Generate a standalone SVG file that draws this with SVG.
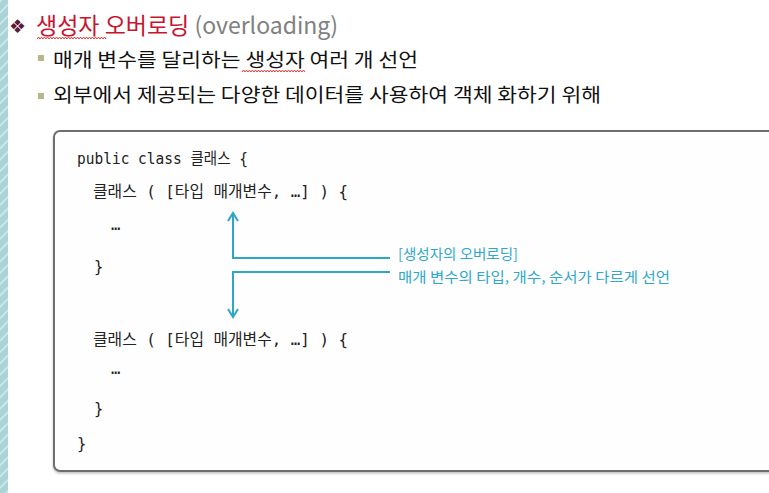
<svg xmlns="http://www.w3.org/2000/svg" width="769" height="493" viewBox="0 0 769 493">
<defs>
<pattern id="stripes" width="8" height="8" patternUnits="userSpaceOnUse" patternTransform="rotate(45)">
<rect width="8" height="8" fill="#a9d3d6"/>
<rect width="2" height="8" fill="#c9e6e8"/>
</pattern>
<marker id="ah" viewBox="0 0 12 12" refX="10" refY="6" markerWidth="12" markerHeight="12" markerUnits="userSpaceOnUse" orient="auto">
<path d="M2 1 L10 6 L2 11" fill="none" stroke="#2ea6c4" stroke-width="2"/>
</marker>
<filter id="sh" x="-5%" y="-5%" width="110%" height="110%">
<feDropShadow dx="0" dy="1.5" stdDeviation="1" flood-color="#000" flood-opacity="0.25"/>
</filter>
</defs>
<style>
.kr{font-family:"Noto Sans CJK KR","Noto Sans",sans-serif;}
.code{font-family:"DejaVu Sans Mono","Noto Sans CJK KR",monospace;font-size:15.5px;fill:#222;}
.note{font-family:"Noto Sans CJK KR",sans-serif;font-size:14px;fill:#2fa8cb;}
.conn{fill:none;stroke:#2ea6c4;stroke-width:2;}
.sq{fill:#b9b58c;}
.wave{fill:none;stroke:#e02828;stroke-width:0.9;}
</style>
<rect width="769" height="493" fill="#ffffff"/>
<rect x="0" y="0" width="8" height="493" fill="url(#stripes)"/>

<g id="title">
<text x="9" y="33" font-family="DejaVu Sans,sans-serif" font-size="19" fill="#5c1a3c">❖</text>
<text class="kr" x="36" y="34" font-size="23" fill="#c8142e">생성자 오버로딩 <tspan fill="#808080">(overloading)</tspan></text>
<path class="wave" d="M37 39 l1.5 -2 l1.5 2 l1.5 -2 l1.5 2 l1.5 -2 l1.5 2 l1.5 -2 l1.5 2 l1.5 -2 l1.5 2 l1.5 -2 l1.5 2 l1.5 -2 l1.5 2 l1.5 -2 l1.5 2 l1.5 -2 l1.5 2 l1.5 -2 l1.5 2 l1.5 -2 l1.5 2 l1.5 -2 l1.5 2 l1.5 -2 l1.5 2 l1.5 -2 l1.5 2 l1.5 -2 l1.5 2 l1.5 -2 l1.5 2 l1.5 -2 l1.5 2 l1.5 -2 l1.5 2 l1.5 -2 l1.5 2 l1.5 -2 l1.5 2 l1.5 -2 l1.5 2 l1.5 -2 l1.5 2 l1.5 -2 l1.5 2"/>
</g>

<g id="bullets">
<rect class="sq" x="38" y="55" width="6" height="6"/>
<text class="kr" x="53" y="67" font-size="19" fill="#111" textLength="365" lengthAdjust="spacingAndGlyphs">매개 변수를 달리하는 생성자 여러 개 선언</text>
<path class="wave" d="M242 72 l1.5 -2 l1.5 2 l1.5 -2 l1.5 2 l1.5 -2 l1.5 2 l1.5 -2 l1.5 2 l1.5 -2 l1.5 2 l1.5 -2 l1.5 2 l1.5 -2 l1.5 2 l1.5 -2 l1.5 2 l1.5 -2 l1.5 2 l1.5 -2 l1.5 2 l1.5 -2 l1.5 2 l1.5 -2 l1.5 2 l1.5 -2 l1.5 2 l1.5 -2 l1.5 2 l1.5 -2 l1.5 2 l1.5 -2 l1.5 2 l1.5 -2 l1.5 2 l1.5 -2 l1.5 2 l1.5 -2 l1.5 2 l1.5 -2 l1.5 2 l1.5 -2 l1.5 2"/>
<rect class="sq" x="38" y="93" width="6" height="6"/>
<text class="kr" x="53" y="102" font-size="19" fill="#111" textLength="548" lengthAdjust="spacingAndGlyphs">외부에서 제공되는 다양한 데이터를 사용하여 객체 화하기 위해</text>
</g>

<g id="codebox">
<rect x="54" y="131" width="740" height="340" rx="6" fill="#fefefe" stroke="#6e6e6e" stroke-width="2" filter="url(#sh)"/>
<text class="code" x="77" y="164" textLength="171" lengthAdjust="spacingAndGlyphs">public class 클래스 {</text>
<text class="code" x="93" y="197" textLength="255" lengthAdjust="spacingAndGlyphs">클래스 ( [타입 매개변수, …] )  {</text>
<text class="code" x="111" y="230" fill="#555">…</text>
<text class="code" x="94" y="272">}</text>
<text class="code" x="93" y="345" textLength="255" lengthAdjust="spacingAndGlyphs">클래스 ( [타입 매개변수, …] )  {</text>
<text class="code" x="111" y="374" fill="#555">…</text>
<text class="code" x="94" y="414">}</text>
<text class="code" x="77" y="449">}</text>
</g>

<g id="connectors">
<path class="conn" d="M390 258 H233 V213" marker-end="url(#ah)"/>
<path class="conn" d="M390 272 H233 V317" marker-end="url(#ah)"/>
</g>

<g id="note">
<text class="note" x="398" y="259" textLength="120" lengthAdjust="spacingAndGlyphs">[생성자의 오버로딩]</text>
<text class="note" x="398" y="282" textLength="272" lengthAdjust="spacingAndGlyphs">매개 변수의 타입, 개수, 순서가 다르게 선언</text>
</g>
</svg>
